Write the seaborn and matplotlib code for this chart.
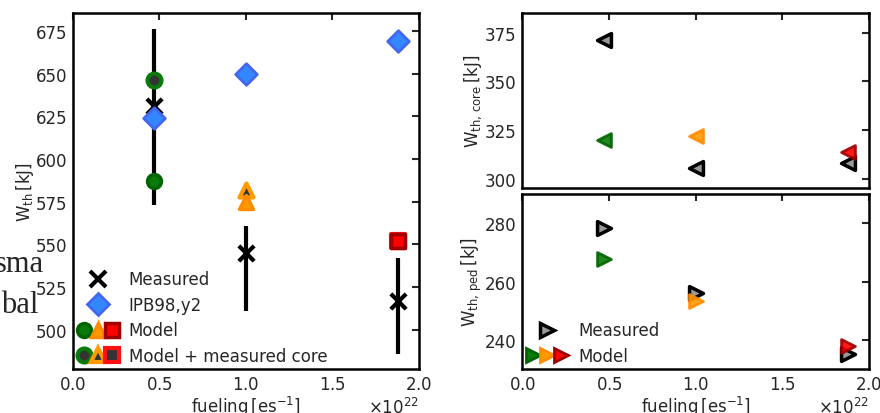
import numpy as np
import pandas as pd
import matplotlib
matplotlib.use("Agg")
import matplotlib.pyplot as plt
import seaborn as sns
from matplotlib.lines import Line2D
from matplotlib.legend_handler import HandlerTuple
from matplotlib.ticker import ScalarFormatter

sns.set_style("white")
plt.rcParams['font.family'] = ['DejaVu Sans']
plt.rcParams['mathtext.default'] = 'regular'

# ---------------- data ----------------
fueling = [0.47e22, 1.0e22, 1.88e22]
w_measured = [631, 545, 517]
w_err_low = [58, 34, 31]
w_err_high = [45, 16, 25]
w_ipb98 = [624, 650, 669]
w_model = [587, 575, 552]
w_model_core = [646, 582, 552]

core_measured = [371, 305.6, 308]
core_model = [319.8, 321.8, 314]

ped_measured = [278.5, 255.9, 235.2]
ped_model = [267.8, 253.4, 238]

model_face = ['#0a7a0a', '#ff9a00', '#ff0000']
model_edge = ['#006400', '#ff8c00', '#a00000']
dark_face = '#333333'
model_core_edge = ['#0a7a0a', '#ff9a00', '#ff1010']
shapes = ['o', '^', 's']

fig = plt.figure(figsize=(8.8, 4.14), dpi=100)
ax = fig.add_axes([72.7/880, 44/414, 346.3/880, 356/414])
ax_c = fig.add_axes([522.3/880, (414-189)/414, 346.7/880, 175/414])
ax_p = fig.add_axes([522.3/880, 44/414, 346.7/880, 175/414], sharex=ax_c)

def pt(axis, x, y, marker, ms, face, edge, mew, z, alpha=1.0):
    df = pd.DataFrame({'x': [x], 'y': [y]})
    sns.scatterplot(data=df, x='x', y='y', ax=axis, marker=marker, s=ms**2,
                    color=face, edgecolor=edge, linewidth=mew, zorder=z,
                    alpha=alpha, legend=False)

leg_kw = dict(handler_map={tuple: HandlerTuple(ndivide=None, pad=0)},
              loc='lower left', frameon=False, fontsize=12, handlelength=2.5,
              borderaxespad=0.1, borderpad=0.15, labelspacing=0.45,
              handletextpad=0.6)

# ---------------- left panel ----------------
ax.errorbar(fueling, w_measured, yerr=[w_err_low, w_err_high], fmt='none',
            ecolor='black', elinewidth=3, capsize=0, zorder=2)
for i in range(3):
    pt(ax, fueling[i], w_measured[i], 'x', 11, 'black', 'black', 3, 3)
    pt(ax, fueling[i], w_ipb98[i], 'D', 11, '#3388ff', '#4466ee', 2, 4)
    pt(ax, fueling[i], w_model_core[i], shapes[i], 10, dark_face, model_core_edge[i], 3, 5)
    pt(ax, fueling[i], w_model[i], shapes[i], 10, model_face[i], model_edge[i], 2.5, 6)

ax.set_xlim(0, 2e22)
ax.set_ylim(477, 685.5)
ax.set_yticks([500, 525, 550, 575, 600, 625, 650, 675])
ax.set_xticks([0, 0.5e22, 1.0e22, 1.5e22, 2.0e22])
ax.set_xlabel(r'fueling$\,$[es$^{-1}$]', fontsize=12, labelpad=1)
ax.set_ylabel(r'W$_{\rm th}\,$[kJ]', fontsize=12, labelpad=0)

h_meas = Line2D([], [], ls='none', marker='x', ms=11, mew=3, color='black')
h_ipb = Line2D([], [], ls='none', marker='D', ms=11, mfc='#3388ff', mec='#4466ee', mew=2)
h_model = tuple(Line2D([], [], ls='none', marker=shapes[i], ms=10, mfc=model_face[i],
                       mec=model_edge[i], mew=2.5) for i in range(3))
h_core = tuple(Line2D([], [], ls='none', marker=shapes[i], ms=10, mfc=dark_face,
                      mec=model_core_edge[i], mew=3) for i in range(3))
ax.legend([h_meas, h_ipb, h_model, h_core],
          ['Measured', 'IPB98,y2', 'Model', 'Model + measured core'], **leg_kw)

# ---------------- right top: core ----------------
for i in range(3):
    pt(ax_c, fueling[i], core_measured[i], '<', 10, '#999999', 'black', 2.5, 3)
    pt(ax_c, fueling[i], core_model[i], '<', 10, model_face[i], model_edge[i], 2, 4, alpha=0.9)
ax_c.set_ylim(295.4, 385)
ax_c.set_yticks([300, 325, 350, 375])
ax_c.set_ylabel(r'W$_{\rm th,\,core}\,$[kJ]', fontsize=12, labelpad=1)
ax_c.set_xlabel('')

# ---------------- right bottom: pedestal ----------------
for i in range(3):
    pt(ax_p, fueling[i], ped_measured[i], '>', 10, '#999999', 'black', 2.5, 3)
    pt(ax_p, fueling[i], ped_model[i], '>', 10, model_face[i], model_edge[i], 2, 4, alpha=0.9)
ax_p.set_xlim(0, 2e22)
ax_p.set_xticks([0, 0.5e22, 1.0e22, 1.5e22, 2.0e22])
ax_p.set_ylim(230, 290)
ax_p.set_yticks([240, 260, 280])
ax_p.set_xlabel(r'fueling$\,$[es$^{-1}$]', fontsize=12, labelpad=1)
ax_p.set_ylabel(r'W$_{\rm th,\,ped}\,$[kJ]', fontsize=12, labelpad=1)

hp_meas = Line2D([], [], ls='none', marker='>', ms=10, mfc='#999999', mec='black', mew=2.5)
hp_model = tuple(Line2D([], [], ls='none', marker='>', ms=10, mfc=model_face[i],
                        mec=model_edge[i], mew=2) for i in range(3))
ax_p.legend([hp_meas, hp_model], ['Measured', 'Model'], **leg_kw)

for a in (ax, ax_c, ax_p):
    a.tick_params(direction='in', top=True, right=True, length=5, width=1.5,
                  labelsize=12, pad=4)
    for s in a.spines.values():
        s.set_linewidth(1.8)
        s.set_color('black')
    fmt = ScalarFormatter(useMathText=True)
    a.xaxis.set_major_formatter(fmt)
    a.xaxis.get_offset_text().set_fontsize(12)
plt.setp(ax_c.get_xticklabels(), visible=False)
ax_c.xaxis.get_offset_text().set_visible(False)

# stray serif text fragments at the left edge
fig.text(44/880, 1 - 272/414, 'sma', family='Liberation Serif', fontsize=22,
         ha='right', va='baseline', zorder=-1)
fig.text(38/880, 1 - 313/414, 'bal', family='Liberation Serif', fontsize=22,
         ha='right', va='baseline', zorder=-1)

fig.savefig('out.png', dpi=100)
